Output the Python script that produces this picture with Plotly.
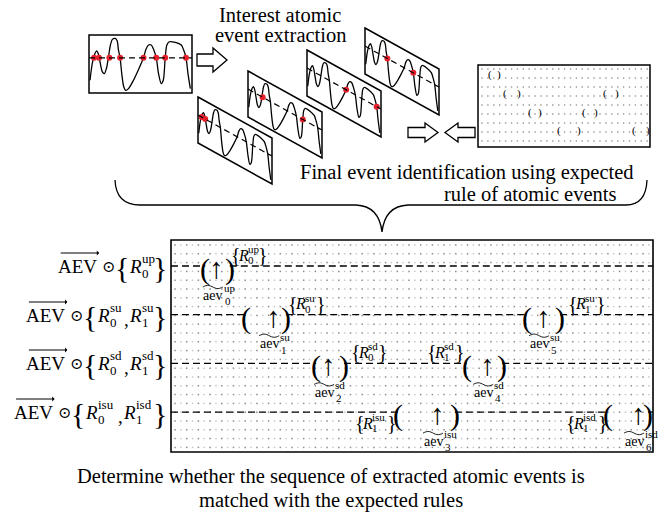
import numpy as np
import plotly.graph_objects as go

# ---------------- data ----------------
# waveform shape, normalised to its frame (u: 0..1 left->right, v: 0..1 top->bottom)
wave_u = [0.010, 0.032, 0.058, 0.075, 0.091, 0.107, 0.130, 0.149, 0.169, 0.188, 0.208,
          0.227, 0.253, 0.273, 0.286, 0.302, 0.318, 0.338, 0.357, 0.383, 0.432, 0.481,
          0.529, 0.552, 0.578, 0.604, 0.627, 0.653, 0.675, 0.701, 0.721, 0.740, 0.756,
          0.779, 0.838, 0.896, 0.919, 0.942, 0.961, 0.984]
wave_v = [0.780, 0.491, 0.318, 0.272, 0.329, 0.462, 0.636, 0.665, 0.578, 0.393, 0.173,
          0.075, 0.058, 0.098, 0.260, 0.393, 0.665, 0.896, 0.954, 0.925, 0.780, 0.595,
          0.393, 0.249, 0.173, 0.173, 0.249, 0.393, 0.665, 0.838, 0.780, 0.393, 0.173,
          0.116, 0.127, 0.173, 0.260, 0.393, 0.665, 0.925]
threshold_v = 0.393
crossing_u = [0.049, 0.097, 0.198, 0.302, 0.529, 0.653, 0.740, 0.942]
frame_events = [[0, 1], [2, 6], [4, 7], [3, 5]]

# rule rows on the left
row_ids = [1, 2, 3, 4]
row_sets = [[("0", "up")],
            [("0", "su"), ("1", "su")],
            [("0", "sd"), ("1", "sd")],
            [("0", "isu"), ("1", "isd")]]

# extracted atomic events on the time line (t: 0..100 across the panel)
aev_index = ["0", "1", "2", "3", "4", "5", "6"]
aev_row = [1, 2, 3, 4, 3, 2, 4]
aev_type = ["up", "su", "sd", "isu", "sd", "su", "isd"]
aev_start = [7.1, 15.6, 30.1, 47.1, 61.4, 73.9, 90.7]
aev_end = [12.2, 23.9, 35.9, 58.9, 68.7, 80.7, 99.0]
aev_peak = [9.5, 21.2, 32.6, 55.2, 65.6, 77.2, 96.9]

# expected-rule markers
rule_row = [1, 2, 2, 3, 3, 4, 4]
rule_index = ["0", "0", "1", "0", "1", "1", "1"]
rule_type = ["up", "su", "su", "sd", "sd", "isu", "isd"]
rule_t = [12.2, 24.1, 82.2, 37.1, 53.0, 38.0, 81.8]
rule_side = ["above", "above", "above", "above", "above", "below", "below"]

title_extract = ["Interest atomic", "event extraction"]
title_final = ["Final event identification using expected", "rule of atomic events"]
title_bottom = ["Determine whether the sequence of extracted atomic events is",
                "matched with the expected rules"]

# ---------------- layout constants ----------------
FW, FH = 668, 518
SERIF = "Liberation Serif, DejaVu Serif, serif"
CAP = 20.5
TOP_BOX = (89, 35, 103, 58)
FRAME_X = [198, 248, 307, 365]
FRAME_Y = [97, 71, 50, 28]
FRW, FRH, FRS = 74, 46, 41
PANEL = (171, 240, 653, 452)
MINI = (478, 65, 650, 147)
ROW_PX = [266, 315, 363, 412]
PX_T = (PANEL[2] - PANEL[0]) / 100.0
PX_ROW = (PANEL[3] - PANEL[1]) / (4.82 - 0.466)

fig = go.Figure()
shapes = []
annots = []


def ann(x, y, text, size, xref="x", yref="y", xanchor="center", yanchor="middle",
        xshift=0, yshift=0, color="black"):
    annots.append(dict(x=x, y=y, xref=xref, yref=yref, text=text, showarrow=False,
                       xanchor=xanchor, yanchor=yanchor, xshift=xshift, yshift=yshift,
                       borderpad=0, font=dict(family=SERIF, size=size, color=color)))


def line_trace(x, y, width=1.3, color="black", shape="spline", xaxis="x", yaxis="y", dash=None):
    fig.add_trace(go.Scatter(x=list(map(float, x)), y=list(map(float, y)), mode="lines",
                             hoverinfo="skip", showlegend=False, xaxis=xaxis, yaxis=yaxis,
                             line=dict(color=color, width=width, shape=shape, smoothing=0.8,
                                       dash=dash)))


def dots(x0, x1, y0, y1, sx, sy, color, size):
    xs, ys = [], []
    yy = y0
    while yy < y1:
        xx = x0
        while xx < x1:
            xs.append(round(xx, 2))
            ys.append(round(yy, 2))
            xx += sx
        yy += sy
    fig.add_trace(go.Scatter(x=xs, y=ys, mode="markers", hoverinfo="skip", showlegend=False,
                             marker=dict(color=color, size=size, symbol="square",
                                         line=dict(width=0), opacity=1)))


# ---------- dotted backgrounds ----------
dots(PANEL[0] + 4, PANEL[2] - 2, PANEL[1] + 5, PANEL[3] - 2, 11.7, 8.8, "#8c8c8c", 1.5)
dots(PANEL[0] + 9.85, PANEL[2] - 2, PANEL[1] + 5, PANEL[3] - 2, 11.7, 8.8, "#c2c2c2", 1.4)
dots(MINI[0] + 4, MINI[2] - 2, MINI[1] + 4, MINI[3] - 2, 5.9, 9.0, "#9a9a9a", 1.4)

# ---------- top-left waveform ----------
bx, by, bw, bh = TOP_BOX
shapes.append(dict(type="rect", x0=bx, y0=by, x1=bx + bw, y1=by + bh, xref="x", yref="y",
                   line=dict(color="black", width=1.5)))
line_trace([bx + u * bw for u in wave_u], [by + v * bh for v in wave_v])
shapes.append(dict(type="line", x0=bx, x1=bx + bw, y0=by + threshold_v * bh, y1=by + threshold_v * bh,
                   xref="x", yref="y", line=dict(color="black", width=1.2, dash="6px,4px")))
fig.add_trace(go.Scatter(x=[bx + u * bw for u in crossing_u], y=[by + threshold_v * bh] * len(crossing_u),
                         mode="markers", hoverinfo="skip", showlegend=False,
                         marker=dict(color="#e8202a", size=6)))

# ---------- slanted frames ----------
for fx, fy, evs in zip(FRAME_X, FRAME_Y, frame_events):
    shapes.append(dict(type="path", xref="x", yref="y",
                       path=f"M {fx},{fy} L {fx + FRW},{fy + FRS} L {fx + FRW},{fy + FRS + FRH} L {fx},{fy + FRH} Z",
                       line=dict(color="black", width=1.5)))
    line_trace([fx + u * FRW for u in wave_u], [fy + u * FRS + v * FRH for u, v in zip(wave_u, wave_v)])
    shapes.append(dict(type="line", xref="x", yref="y", x0=fx, y0=fy + threshold_v * FRH,
                       x1=fx + FRW, y1=fy + FRS + threshold_v * FRH,
                       line=dict(color="black", width=1.2, dash="6px,4px")))
    fig.add_trace(go.Scatter(x=[fx + crossing_u[e] * FRW for e in evs],
                             y=[fy + crossing_u[e] * FRS + threshold_v * FRH for e in evs],
                             mode="markers", hoverinfo="skip", showlegend=False,
                             marker=dict(color="#e8202a", size=6)))


# ---------- hollow block arrows ----------
def block_arrow(x0, x1, yc, head_half, shaft_half, head_len, direction=1):
    if direction == 1:
        xs = x1 - head_len
        p = (f"M {x0},{yc - shaft_half} L {xs},{yc - shaft_half} L {xs},{yc - head_half} L {x1},{yc} "
             f"L {xs},{yc + head_half} L {xs},{yc + shaft_half} L {x0},{yc + shaft_half} Z")
    else:
        xs = x0 + head_len
        p = (f"M {x1},{yc - shaft_half} L {xs},{yc - shaft_half} L {xs},{yc - head_half} L {x0},{yc} "
             f"L {xs},{yc + head_half} L {xs},{yc + shaft_half} L {x1},{yc + shaft_half} Z")
    shapes.append(dict(type="path", xref="x", yref="y", path=p, line=dict(color="black", width=1.3),
                       fillcolor="white"))


block_arrow(197, 227, 60, 12, 6, 14, 1)
block_arrow(408, 438, 132.5, 9.5, 5, 13, 1)
block_arrow(445, 475, 132.5, 9.5, 5, 13, -1)

# ---------- mini rule box ----------
shapes.append(dict(type="rect", xref="x", yref="y", x0=MINI[0], y0=MINI[1], x1=MINI[2], y1=MINI[3],
                   line=dict(color="black", width=1.5)))
for r, s, e in zip(aev_row, aev_start, aev_end):
    ann(s, r, "(", 11, xref="x3", yref="y3")
    ann(e, r, ")", 11, xref="x3", yref="y3")

# ---------- curly brace ----------
shapes.append(dict(type="path", xref="x", yref="y",
                   path="M 115,180 Q 116,205 140,205 L 356,205 Q 379,206 382,232 Q 385,206 408,205 "
                        "L 626,205 Q 646,205 647,180",
                   line=dict(color="black", width=1.3)))

# ---------- captions ----------
ann(280, 15, title_extract[0], CAP)
ann(280, 35, title_extract[1], CAP)
ann(467, 172, title_final[0], CAP)
ann(530, 194, title_final[1], CAP)
ann(331, 476, title_bottom[0], CAP)
ann(331, 500, title_bottom[1], CAP)

# ---------- bottom panel ----------
shapes.append(dict(type="rect", xref="x", yref="y", x0=PANEL[0], y0=PANEL[1], x1=PANEL[2], y1=PANEL[3],
                   line=dict(color="black", width=1.6)))

for r in row_ids:
    evs = sorted([(s, e) for rr, s, e in zip(aev_row, aev_start, aev_end) if rr == r])
    cur = 0.0
    for s, e in evs:
        shapes.append(dict(type="line", xref="x2", yref="y2", x0=cur, x1=s, y0=r, y1=r,
                           line=dict(color="black", width=1.3, dash="7px,4px")))
        cur = e
    if cur < 99.5:
        shapes.append(dict(type="line", xref="x2", yref="y2", x0=cur, x1=100, y0=r, y1=r,
                           line=dict(color="black", width=1.3, dash="7px,4px")))

for idx, r, typ, s, e, p in zip(aev_index, aev_row, aev_type, aev_start, aev_end, aev_peak):
    ann(s, r, "(", 30, xref="x2", yref="y2", yshift=-3)
    ann(e, r, ")", 30, xref="x2", yref="y2", yshift=-3)
    ann(p, r, "↑", 29, xref="x2", yref="y2", yshift=-2)
    # label aev with wide tilde
    ann(p, r, "aev", 14, xref="x2", yref="y2", xanchor="center", xshift=-4, yshift=-29)
    ann(p, r, typ, 11, xref="x2", yref="y2", xanchor="left", xshift=6, yshift=-22)
    ann(p, r, idx, 11, xref="x2", yref="y2", xanchor="left", xshift=7, yshift=-35)
    tx = np.linspace(-14, 6, 14)
    ty = 21 - 1.6 * np.sin((tx + 14) / 20 * 2 * np.pi)
    line_trace([p + x / PX_T for x in tx], [r + y / PX_ROW for y in ty], width=0.9,
               xaxis="x2", yaxis="y2")

for r, idx, typ, t, side in zip(rule_row, rule_index, rule_type, rule_t, rule_side):
    dy = 11 if side == "above" else -11
    sw = 4.3 * len(typ) + 2
    ann(t, r, "{", 20, xref="x2", yref="y2", xanchor="left", yshift=dy)
    ann(t, r, "<i>R</i>", 16, xref="x2", yref="y2", xanchor="left", xshift=7, yshift=dy)
    ann(t, r, typ, 11, xref="x2", yref="y2", xanchor="left", xshift=17, yshift=dy + 6)
    ann(t, r, idx, 11, xref="x2", yref="y2", xanchor="left", xshift=17, yshift=dy - 5)
    ann(t, r, "}", 20, xref="x2", yref="y2", xanchor="left", xshift=17 + sw, yshift=dy)

# ---------- row labels ----------
for r, terms in zip(row_ids, row_sets):
    ry = ROW_PX[r - 1]
    x = 168
    ann(x, ry + 1, "}", 30, xanchor="right")
    x -= 13
    for k in range(len(terms) - 1, -1, -1):
        idx, typ = terms[k]
        sw = 6.4 * len(typ) + 1
        ann(x - sw, ry - 8, typ, 13, xanchor="left")
        ann(x - sw, ry + 7, idx, 13, xanchor="left")
        x -= sw - 2
        ann(x, ry, "<i>R</i>", 19, xanchor="right")
        x -= 12
        if k > 0:
            ann(x - 1, ry + 4, ",", 19, xanchor="right")
            x -= 8
    ann(x - 1, ry + 1, "{", 30, xanchor="right")
    x -= 13
    ann(x - 2, ry, "⊙", 16, xanchor="right")
    x -= 19
    ann(x - 1, ry, "AEV", 19, xanchor="right")
    annots.append(dict(x=x, y=ry - 13, ax=x - 40, ay=ry - 13, xref="x", yref="y",
                       axref="x", ayref="y", text="", showarrow=True, arrowhead=1,
                       arrowsize=0.8, arrowwidth=1, arrowcolor="black", standoff=0, startstandoff=0))

ax_common = dict(visible=False, showgrid=False, zeroline=False, fixedrange=True)
fig.update_layout(
    width=FW, height=FH, margin=dict(l=0, r=0, t=0, b=0),
    paper_bgcolor="white", plot_bgcolor="rgba(0,0,0,0)", showlegend=False,
    xaxis=dict(range=[0, FW], domain=[0, 1], **ax_common),
    yaxis=dict(range=[FH, 0], domain=[0, 1], **ax_common),
    xaxis2=dict(range=[0, 100], domain=[PANEL[0] / FW, PANEL[2] / FW], anchor="y2", **ax_common),
    yaxis2=dict(range=[4.82, 0.466], domain=[1 - PANEL[3] / FH, 1 - PANEL[1] / FH], anchor="x2", **ax_common),
    xaxis3=dict(range=[0, 100], domain=[MINI[0] / FW, MINI[2] / FW], anchor="y3", **ax_common),
    yaxis3=dict(range=[4.86, 0.465], domain=[1 - MINI[3] / FH, 1 - MINI[1] / FH], anchor="x3", **ax_common),
    shapes=shapes, annotations=annots,
)
# invisible anchors so the extra axes are drawn
fig.add_trace(go.Scatter(x=[0], y=[1], xaxis="x2", yaxis="y2", mode="markers", marker=dict(opacity=0),
                         hoverinfo="skip", showlegend=False))
fig.add_trace(go.Scatter(x=[0], y=[1], xaxis="x3", yaxis="y3", mode="markers", marker=dict(opacity=0),
                         hoverinfo="skip", showlegend=False))
fig.write_html("out.html")
